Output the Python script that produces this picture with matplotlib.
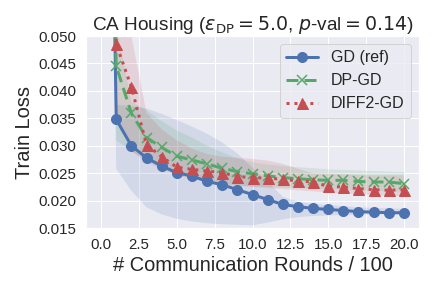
import matplotlib
matplotlib.use("Agg")
import matplotlib.pyplot as plt
from matplotlib.ticker import FormatStrFormatter
import seaborn as sns
import numpy as np

sns.set_theme(style="darkgrid")
plt.rcParams['font.family'] = ['Liberation Sans', 'DejaVu Sans']

rounds = list(range(0, 21))

gd_mean = [0.20, 0.0348, 0.0300, 0.0278, 0.0263, 0.0251, 0.0245, 0.0235, 0.0229, 0.0220, 0.0211,
           0.0202, 0.0193, 0.0189, 0.0186, 0.0184, 0.0182, 0.0180, 0.0179, 0.0178, 0.0178]
gd_upper = [0.21, 0.0375, 0.0372, 0.0368, 0.0358, 0.0347, 0.0335, 0.0322, 0.0306, 0.0286, 0.0260,
            0.0235, 0.0207, 0.0198, 0.0194, 0.0192, 0.0190, 0.0188, 0.0187, 0.0186, 0.0185]
gd_lower = [0.19, 0.0258, 0.0218, 0.0188, 0.0175, 0.0167, 0.0162, 0.0159, 0.0157, 0.0156, 0.0155,
            0.0160, 0.0166, 0.0170, 0.0172, 0.0173, 0.0174, 0.0174, 0.0175, 0.0175, 0.0175]

dp_mean = [0.20, 0.0445, 0.0359, 0.0315, 0.0297, 0.0281, 0.0274, 0.0267, 0.0259, 0.0253, 0.0249,
           0.0245, 0.0242, 0.0240, 0.0238, 0.0237, 0.0237, 0.0235, 0.0234, 0.0234, 0.0231]
dp_upper = [0.21, 0.0520, 0.0380, 0.0365, 0.0345, 0.0328, 0.0315, 0.0300, 0.0288, 0.0277, 0.0270,
            0.0266, 0.0263, 0.0261, 0.0259, 0.0257, 0.0256, 0.0255, 0.0254, 0.0253, 0.0252]
dp_lower = [0.19, 0.0310, 0.0290, 0.0275, 0.0260, 0.0247, 0.0241, 0.0236, 0.0231, 0.0228, 0.0226,
            0.0225, 0.0224, 0.0223, 0.0222, 0.0221, 0.0220, 0.0219, 0.0218, 0.0217, 0.0216]

diff_mean = [0.20, 0.0485, 0.0407, 0.0302, 0.0280, 0.0261, 0.0257, 0.0254, 0.0251, 0.0244, 0.0242,
             0.0241, 0.0239, 0.0236, 0.0234, 0.0226, 0.0225, 0.0222, 0.0220, 0.0219, 0.0220]
diff_upper = [0.21, 0.0600, 0.0500, 0.0360, 0.0330, 0.0310, 0.0295, 0.0285, 0.0280, 0.0278, 0.0276,
              0.0273, 0.0267, 0.0258, 0.0250, 0.0249, 0.0248, 0.0247, 0.0246, 0.0246, 0.0246]
diff_lower = [0.19, 0.0360, 0.0290, 0.0270, 0.0258, 0.0246, 0.0240, 0.0234, 0.0229, 0.0227, 0.0225,
              0.0223, 0.0221, 0.0219, 0.0217, 0.0215, 0.0213, 0.0212, 0.0210, 0.0209, 0.0208]

yticks = [0.015, 0.020, 0.025, 0.030, 0.035, 0.040, 0.045, 0.050]
xticks = [0, 2.5, 5, 7.5, 10, 12.5, 15, 17.5, 20]

labels = ["GD (ref)", "DP-GD", "DIFF2-GD"]
colors = ["#4C72B0", "#55A868", "#C44E52"]

fig = plt.figure(figsize=(6, 4), dpi=72)
ax = fig.add_axes([0.199, 0.208, 0.771, 0.667])

x = np.array(rounds)
ax.plot(x, gd_mean, color=colors[0], linestyle='-', marker='o', lw=3, markersize=10, label=labels[0])
ax.fill_between(x, gd_lower, gd_upper, color=colors[0], alpha=0.15, lw=0)
ax.plot(x, dp_mean, color=colors[1], linestyle='--', marker='x', lw=3, markersize=10, mew=1.5,
        dashes=(4, 2), label=labels[1])
ax.fill_between(x, dp_lower, dp_upper, color=colors[1], alpha=0.15, lw=0)
ax.plot(x, diff_mean, color=colors[2], linestyle=':', marker='^', lw=3, markersize=11, label=labels[2])
ax.fill_between(x, diff_lower, diff_upper, color=colors[2], alpha=0.15, lw=0)

ax.set_ylim(0.015, 0.05)
ax.set_yticks(yticks)
ax.yaxis.set_major_formatter(FormatStrFormatter('%.3f'))
ax.set_xticks(xticks)
ax.tick_params(labelsize=15)
ax.set_xlabel("# Communication Rounds / 100", fontsize=20)
ax.set_ylabel("Train Loss", fontsize=20)
ax.set_title(r"CA Housing ($\epsilon_{\mathrm{DP}} = 5.0$, $p$-val$ = 0.14$)", fontsize=19)
ax.legend(loc='upper right', fontsize=16)

fig.savefig("out.png", dpi=72)
